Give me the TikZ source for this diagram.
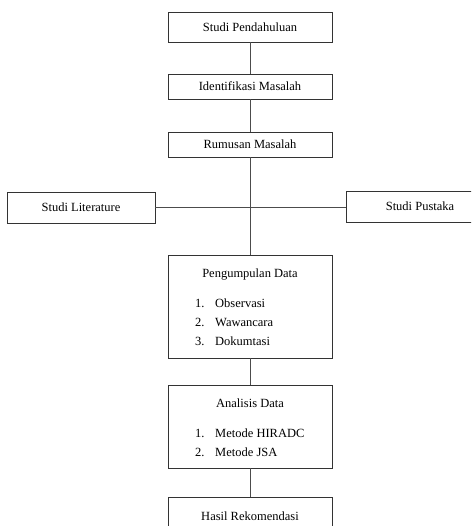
\documentclass[tikz,border=0pt]{standalone}
\usepackage{fontspec}
\setmainfont{Liberation Serif}
\usetikzlibrary{positioning}

\begin{document}
\begin{tikzpicture}[
    x=1pt, y=-1pt,
    box/.style={draw=black!80, line width=0.8pt, minimum width=164pt, minimum height=25pt,
                font=\fontsize{12.5}{14}\selectfont, inner sep=0pt},
    sidebox/.style={box, minimum width=148pt, minimum height=31pt},
    line/.style={draw=black!70, line width=0.9pt},
    item/.style={font=\fontsize{12.5}{14}\selectfont, anchor=base west, inner sep=0pt},
]
\useasboundingbox (0,0) rectangle (471,526);
\clip (0,0) rectangle (471,526);
% ------------------------------------------------ main column
\node[box, minimum height=30pt] (studi) at (250,27) {Studi Pendahuluan};
\node[box] (ident) at (250,86.5) {Identifikasi Masalah};
\node[box] (rumus) at (250,144.5) {Rumusan Masalah};
\node[sidebox] (lit) at (81,207.5) {Studi Literature};
\node[sidebox] (pustaka) at (420,206.5) {Studi Pustaka};
\node[box, minimum height=103pt] (kumpul) at (250,306.5) {};
\node[box, minimum height=83pt] (analisis) at (250,426.5) {};
\node[box, minimum height=32pt, anchor=north] (hasil) at (250,497) {};
% ------------------------------------------------ box contents
\node[item, anchor=base] (kumpulT) at (250,277) {Pengumpulan Data};
\foreach \n/\t [count=\i] in {1/Observasi, 2/Wawancara, 3/Dokumtasi} {
  \node[item] (kn\i) at (195,288+19*\i) {\n.};
  \node[item] (kt\i) at (215,288+19*\i) {\t};
}
\node[item, anchor=base] (analisisT) at (250,407) {Analisis Data};
\foreach \n/\t [count=\i] in {1/Metode HIRADC, 2/Metode JSA} {
  \node[item] (an\i) at (195,418+19*\i) {\n.};
  \node[item] (at\i) at (215,418+19*\i) {\t};
}
\node[item, anchor=base] (hasilT) at (250,520) {Hasil Rekomendasi};
% ------------------------------------------------ connectors
\draw[line] (studi) -- (ident);
\draw[line] (ident) -- (rumus);
\draw[line] (rumus) -- (kumpul);
\draw[line] (lit.east) -- (lit.east -| pustaka.west);
\draw[line] (kumpul) -- (analisis);
\draw[line] (analisis) -- (hasil);
\end{tikzpicture}
\end{document}
